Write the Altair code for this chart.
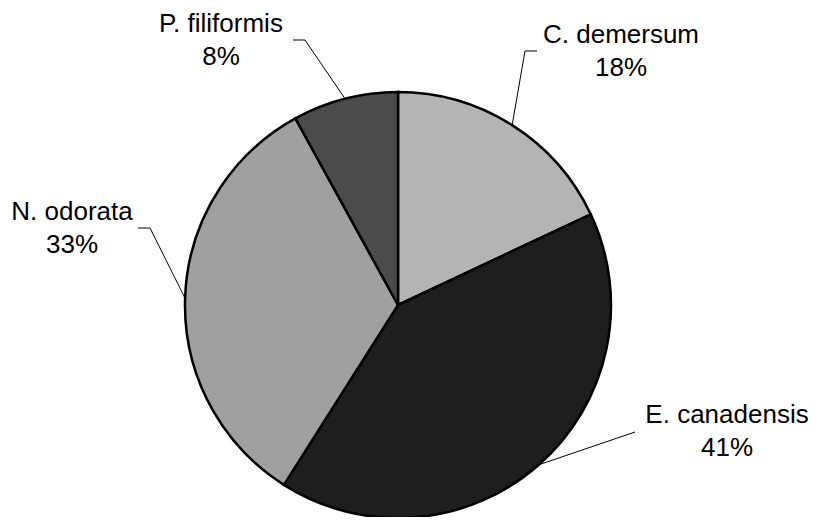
import math
import altair as alt
import pandas as pd

# ---- data ----
species = ["C. demersum", "E. canadensis", "N. odorata", "P. filiformis"]
percent = [18, 41, 33, 8]
colors = ["#b4b4b4", "#1e1e1e", "#a0a0a0", "#4b4b4b"]

# ---- layout (page pixel coordinates) ----
CX, CY, R = 398, 305, 213
# centre of the first label line
label_pos = {
    "C. demersum": (621, 35),
    "E. canadensis": (727, 415),
    "N. odorata": (72, 212),
    "P. filiformis": (221, 24),
}
leader_start = {
    "C. demersum": [(537, 51), (525, 51)],
    "E. canadensis": [(635, 432)],
    "N. odorata": [(138, 228), (150, 228)],
    "P. filiformis": [(293, 40), (305, 40)],
}

W, H = 802, 509

pie_df = pd.DataFrame({"species": species, "percent": percent, "idx": range(len(species))})

# leader lines: from label elbow to slice mid-angle on the rim
total = sum(percent)
rows = []
cum = 0
for s, p in zip(species, percent):
    mid = (cum + p / 2) / total * 2 * math.pi
    cum += p
    pts = list(leader_start[s]) + [(CX + R * math.sin(mid), CY - R * math.cos(mid))]
    for k, (px, py) in enumerate(pts):
        rows.append({"species": s, "k": k, "x": px, "y": py})
line_df = pd.DataFrame(rows)

text_df = pd.DataFrame({
    "x": [label_pos[s][0] for s in species],
    "y": [label_pos[s][1] for s in species],
    "label": [f"{s}\n{p}%" for s, p in zip(species, percent)],
})

xs = alt.Scale(domain=[8, 8 + W], nice=False, zero=False)
ys = alt.Scale(domain=[8, 8 + H], nice=False, zero=False, reverse=True)

pie = alt.Chart(pie_df).mark_arc(outerRadius=R, stroke="black", strokeWidth=2.5).encode(
    theta=alt.Theta("percent:Q", stack=True),
    order=alt.Order("idx:Q"),
    color=alt.Color("species:N", scale=alt.Scale(domain=species, range=colors), legend=None),
    x=alt.value(CX - 8),
    y=alt.value(CY - 8),
)

lines = alt.Chart(line_df).mark_line(color="black", strokeWidth=1).encode(
    x=alt.X("x:Q", scale=xs, axis=None),
    y=alt.Y("y:Q", scale=ys, axis=None),
    detail="species:N",
    order="k:Q",
)

texts = alt.Chart(text_df).mark_text(
    font="Liberation Sans", fontSize=26, lineBreak="\n", lineHeight=33,
    align="center", baseline="middle", color="black",
).encode(
    x=alt.X("x:Q", scale=xs, axis=None),
    y=alt.Y("y:Q", scale=ys, axis=None),
    text="label:N",
)

chart = alt.layer(pie, lines, texts).properties(
    width=W, height=H, padding=0, autosize="none", background="white"
).configure_view(stroke=None)

chart.save("out.html", embed_options={"renderer": "svg", "actions": False})
